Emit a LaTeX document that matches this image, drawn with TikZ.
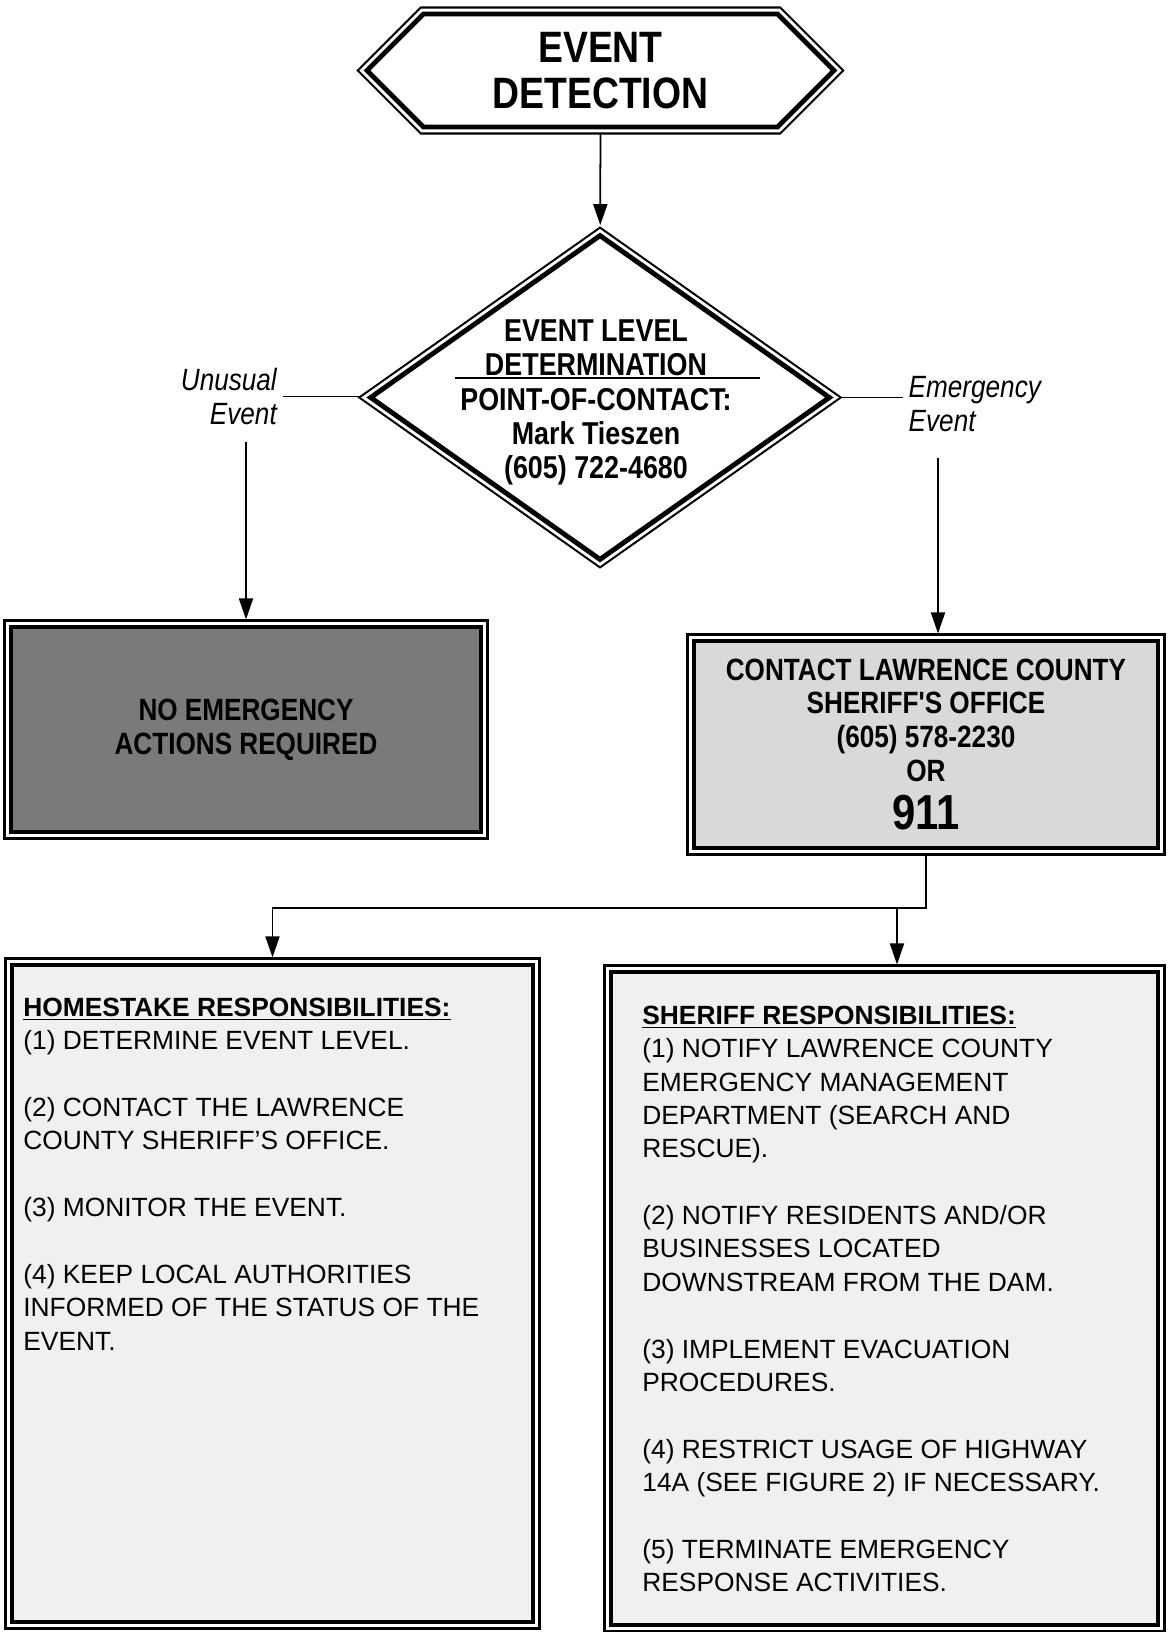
\documentclass[tikz,border=0pt]{standalone}
\usepackage{fontspec}
\setmainfont{Liberation Sans}
\newfontfamily\narrowfont[FakeStretch=0.85]{Liberation Sans}
\usetikzlibrary{shapes.geometric,shapes.symbols,arrows.meta}

\begin{document}
\begin{tikzpicture}[
    >={Triangle[length=12pt,width=8pt]},
    dblframe/.style={draw, line width=2.8pt, line join=miter, outer sep=4.3pt, inner sep=0pt,
      preaction={draw, line width=8.6pt},
      preaction={draw=white, line width=6.2pt}},
    flow/.style={line width=1pt},
    bigtext/.style={font=\narrowfont\bfseries\fontsize{17.5}{19.2}\selectfont, align=center},
    sidetext/.style={font=\narrowfont\itshape\fontsize{17.5}{19.2}\selectfont},
    listtext/.style={font=\fontsize{15}{19}\selectfont, align=left, anchor=north west, inner sep=0pt}
  ]
        \useasboundingbox (0,0) rectangle (23.36,-32.64);

        % top of the chart
        \node[dblframe, signal, signal to=west and east, fill=white, minimum width=9.34cm, minimum height=2.26cm,
          font=\narrowfont\bfseries\fontsize{25}{26}\selectfont, align=center] (detect) at (12.01,-1.41) {EVENT\\DETECTION};
        \node[dblframe, diamond, fill=white, minimum width=9.3cm, minimum height=6.6cm] (level) at (12.0,-7.95) {};
        \node[bigtext, font=\narrowfont\bfseries\fontsize{18}{19.2}\selectfont] (leveltop) at (11.92,-6.95) {EVENT LEVEL\\DETERMINATION};
        \node[bigtext, font=\narrowfont\bfseries\fontsize{18}{19.4}\selectfont] (levelpoc) at (11.92,-8.73) {POINT-OF-CONTACT:\\Mark Tieszen\\(605) 722-4680};
        \draw[line width=1.2pt] (9.1,-7.56) -- (15.2,-7.56);

        \node[sidetext, align=right, anchor=east] (unusual) at (5.66,-7.93) {Unusual\\Event};
        \node[sidetext, align=left, anchor=west] (emergency) at (18.05,-8.08) {Emergency\\Event};

        % middle boxes
        \node[dblframe, bigtext, fill=black!52, minimum width=9.4cm, minimum height=4.1cm] (noaction) at (4.92,-14.59) {NO EMERGENCY\\ACTIONS REQUIRED};
        \node[dblframe, bigtext, fill=black!15, minimum width=9.28cm, minimum height=4.14cm] (sheriffcall) at (18.52,-14.89)
          {CONTACT LAWRENCE COUNTY\\SHERIFF'S OFFICE\\(605) 578-2230\\OR\\[7pt]{\fontsize{28}{30}\selectfont 911}};

        % responsibilities
        \node[dblframe, fill=black!6, minimum width=10.42cm, minimum height=13.14cm] (homestake) at (5.45,-25.87) {};
        \node[dblframe, fill=black!6, minimum width=10.94cm, minimum height=13.06cm] (sheriff) at (17.69,-25.97) {};
        \node[listtext] (homelist) at (0.46,-19.95) {\textbf{\underline{HOMESTAKE RESPONSIBILITIES:}}\\
          (1) DETERMINE EVENT LEVEL.\\[19pt]
          (2) CONTACT THE LAWRENCE\\
          COUNTY SHERIFF'S OFFICE.\\[19pt]
          (3) MONITOR THE EVENT.\\[19pt]
          (4) KEEP LOCAL AUTHORITIES\\
          INFORMED OF THE STATUS OF THE\\
          EVENT.};
        \node[listtext] (sherifflist) at (12.84,-20.11) {\textbf{\underline{SHERIFF RESPONSIBILITIES:}}\\
          (1) NOTIFY LAWRENCE COUNTY\\
          EMERGENCY MANAGEMENT\\
          DEPARTMENT (SEARCH AND\\
          RESCUE).\\[19pt]
          (2) NOTIFY RESIDENTS AND/OR\\
          BUSINESSES LOCATED\\
          DOWNSTREAM FROM THE DAM.\\[19pt]
          (3) IMPLEMENT EVACUATION\\
          PROCEDURES.\\[19pt]
          (4) RESTRICT USAGE OF HIGHWAY\\
          14A (SEE FIGURE 2) IF NECESSARY.\\[19pt]
          (5) TERMINATE EMERGENCY\\
          RESPONSE ACTIVITIES.};

        % connectors
        \draw[flow, ->] (detect) -- (level);
        \draw[flow] (unusual.east) -- (unusual.east -| level.west);
        \draw[flow] (level.east) -- (level.east -| emergency.west);
        \coordinate (unusualdrop) at (4.92,-8.84);
        \draw[flow, ->] (unusualdrop) -- (noaction);
        \coordinate (emergencydrop) at (18.76,-9.16);
        \draw[flow, ->] (emergencydrop) -- (emergencydrop |- sheriffcall.north);
        \coordinate (fork) at (18.52,-18.16);
        \draw[flow, ->] (sheriffcall.south) -- (fork) -| (homestake.north);
        \coordinate (forkright) at (17.94,-18.16);
        \draw[flow, ->] (forkright) -- (forkright |- sheriff.north);
      \end{tikzpicture}
\end{document}
